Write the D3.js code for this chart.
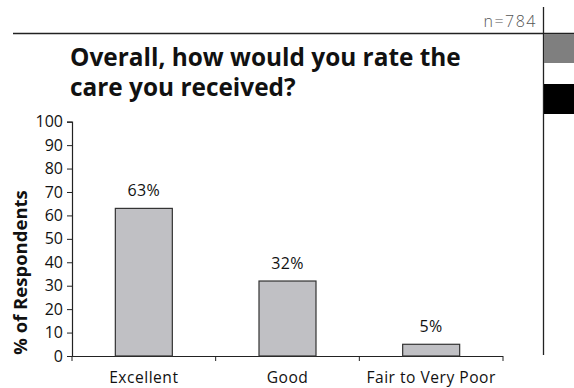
<!DOCTYPE html>
<html>
<head>
<meta charset="utf-8">
<script src="https://cdn.jsdelivr.net/npm/d3@7"></script>
<style>
  html, body { margin: 0; padding: 0; background: #fff; }
  svg { display: block; font-family: "Open Sans", "Noto Sans", sans-serif; }
</style>
</head>
<body>
<svg id="chart" width="574" height="388"></svg>
<script>
// Survey result: overall rating of care
const categories = ["Excellent", "Good", "Fair to Very Poor"];
const percents = [63, 32, 5];
const yTicks = [0, 10, 20, 30, 40, 50, 60, 70, 80, 90, 100];
const titleLines = ["Overall, how would you rate the", "care you received?"];
const sampleNote = "n=784";
const yTitle = "% of Respondents";

const svg = d3.select("#chart");

// page furniture: rule lines and side tabs
svg.append("line").attr("x1", 13).attr("x2", 574).attr("y1", 33.5).attr("y2", 33.5)
  .attr("stroke", "#222").attr("stroke-width", 1.3);
svg.append("line").attr("x1", 543.5).attr("x2", 543.5).attr("y1", 7).attr("y2", 355)
  .attr("stroke", "#222").attr("stroke-width", 1.3);
svg.append("rect").attr("x", 544).attr("y", 34).attr("width", 30).attr("height", 29).attr("fill", "#7f7f7f");
svg.append("rect").attr("x", 544).attr("y", 84).attr("width", 30).attr("height", 30).attr("fill", "#000");

svg.append("text").attr("x", 537).attr("y", 27).attr("text-anchor", "end")
  .attr("font-size", 16).attr("font-weight", 300).attr("letter-spacing", 1.5)
  .attr("fill", "#555").text(sampleNote);

// title
svg.append("g").selectAll("text").data(titleLines).join("text")
  .attr("x", 70).attr("y", (d, i) => 65.5 + i * 30.5)
  .attr("font-size", 24.4).attr("font-weight", 700).attr("fill", "#111")
  .text(d => d);

// plot area
const plotLeft = 72, plotRight = 503, plotTop = 121.7, plotBottom = 356;
const xBand = d3.scaleBand().domain(categories).range([plotLeft, plotRight]);
const y = d3.scaleLinear().domain([0, 100]).range([plotBottom, plotTop]);

// y axis
const yAxis = svg.append("g").attr("transform", `translate(${plotLeft},0)`)
  .call(d3.axisLeft(y).tickValues(yTicks).tickSize(5).tickPadding(4));
yAxis.select(".domain").attr("stroke", "#222").attr("stroke-width", 1.2);
yAxis.selectAll(".tick line").attr("stroke", "#222");
yAxis.selectAll(".tick text").attr("font-size", 16).attr("fill", "#111")
  .attr("font-family", "'Open Sans', sans-serif");

// x axis with ticks at band boundaries
const xAxisG = svg.append("g").attr("transform", `translate(0,${plotBottom})`);
xAxisG.append("line").attr("x1", plotLeft).attr("x2", plotRight).attr("y1", 0.5).attr("y2", 0.5)
  .attr("stroke", "#222").attr("stroke-width", 1.2);
const boundaries = categories.map(c => xBand(c)).concat([plotRight]);
xAxisG.selectAll("line.tk").data(boundaries).join("line").attr("class", "tk")
  .attr("x1", d => d).attr("x2", d => d).attr("y1", 0).attr("y2", 5)
  .attr("stroke", "#222");
xAxisG.selectAll("text").data(categories).join("text")
  .attr("x", d => xBand(d) + xBand.bandwidth() / 2).attr("y", 27.3)
  .attr("text-anchor", "middle").attr("font-size", 15.6).attr("letter-spacing", 0.5)
  .attr("fill", "#111")
  .text(d => d);

// bars
const bw = 57;
svg.append("g").selectAll("rect").data(categories).join("rect")
  .attr("x", d => xBand(d) + xBand.bandwidth() / 2 - bw / 2)
  .attr("width", bw)
  .attr("y", (d, i) => y(percents[i]))
  .attr("height", (d, i) => plotBottom - y(percents[i]))
  .attr("fill", "#c0c0c4").attr("stroke", "#333").attr("stroke-width", 1.2);

// value labels
svg.append("g").selectAll("text").data(categories).join("text")
  .attr("x", d => xBand(d) + xBand.bandwidth() / 2)
  .attr("y", (d, i) => y(percents[i]) - 12.5)
  .attr("text-anchor", "middle").attr("font-size", 16).attr("letter-spacing", 0.4)
  .attr("fill", "#111")
  .text((d, i) => percents[i] + "%");

// y axis title
svg.append("text").attr("transform", "translate(27,272.5) rotate(-90)")
  .attr("text-anchor", "middle").attr("font-size", 18.5).attr("font-weight", 700).attr("fill", "#111")
  .text(yTitle);
</script>
</body>
</html>
